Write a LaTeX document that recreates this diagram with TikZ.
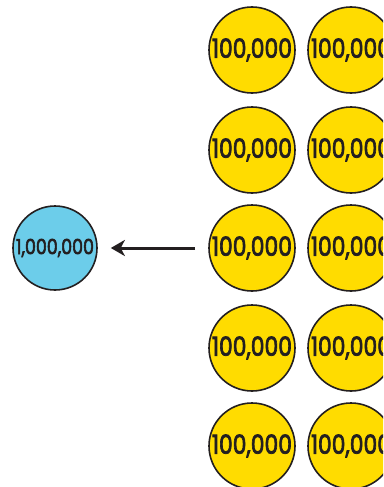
\documentclass[tikz,border=0pt]{standalone}
\usepackage{fontspec}
\setmainfont{Poppins}
\newfontfamily\coinfont[FakeBold=3]{Poppins}
\usetikzlibrary{arrows.meta}
\definecolor{coinyellow}{HTML}{FFDC00}
\definecolor{coinblue}{HTML}{6CCDEA}
\definecolor{ink}{HTML}{231F20}
\tikzset{
  coin/.style={circle, draw=ink, line width=1.6pt, minimum size=86pt, inner sep=0pt, text=ink, font=\coinfont},
  ycoin/.style={coin, fill=coinyellow},
  bcoin/.style={coin, fill=coinblue, minimum size=84pt},
  conn/.style={-{Stealth[length=14pt,width=16pt,inset=4pt]}, line width=3pt, draw=ink, shorten <=13pt, shorten >=13pt}
}
\newcommand{\yl}{\resizebox{80pt}{!}{\scalebox{1}[1.2]{100,000}}}
\begin{document}
\begin{tikzpicture}[x=1pt,y=-1pt]
\useasboundingbox (0,0) rectangle (383,487);
\clip (0,0) rectangle (383,487);
\node[ycoin] (y11) at (252,50) {\yl};
\node[ycoin] (y12) at (351,50) {\yl};
\node[ycoin] (y21) at (252,150) {\yl};
\node[ycoin] (y22) at (351,150) {\yl};
\node[ycoin] (y31) at (252,248) {\yl};
\node[ycoin] (y32) at (351,248) {\yl};
\node[ycoin] (y41) at (252,348) {\yl};
\node[ycoin] (y42) at (351,348) {\yl};
\node[ycoin] (y51) at (252,446) {\yl};
\node[ycoin] (y52) at (351,446) {\yl};
\node[bcoin] (b) at (55,248) {\resizebox{78pt}{!}{\scalebox{1}[1.2]{1,000,000}}};
\draw[conn] (y31) -- (b);
\end{tikzpicture}
\end{document}
